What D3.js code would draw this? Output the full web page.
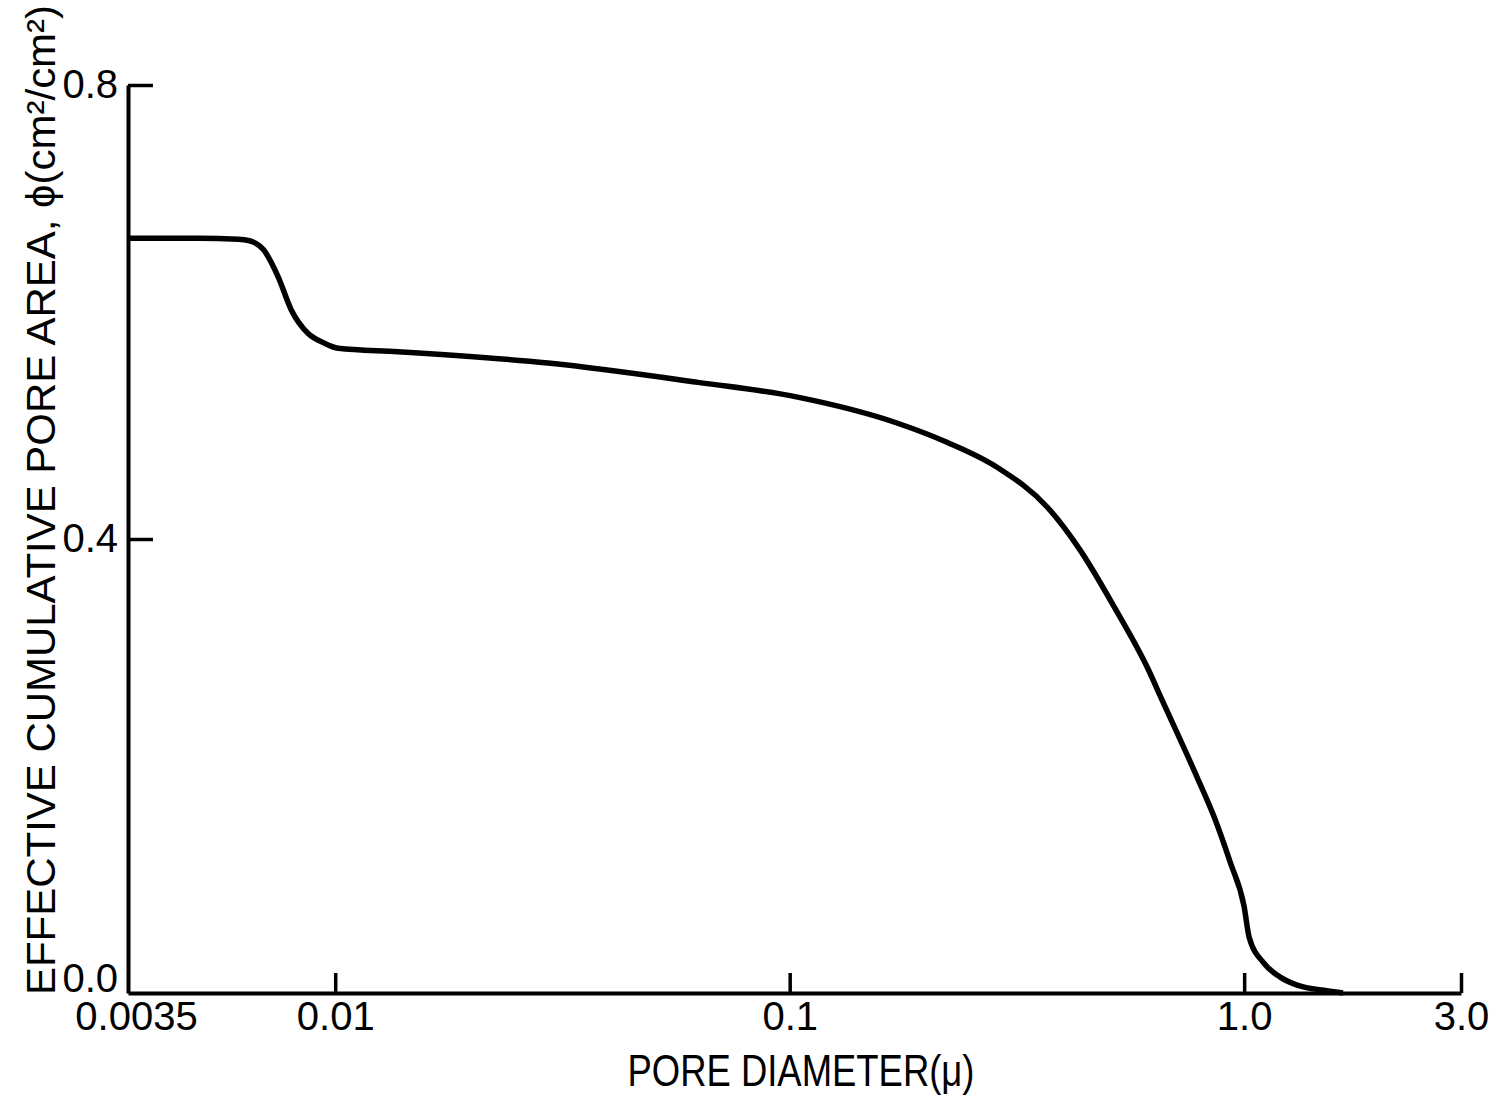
<!DOCTYPE html>
<html>
<head>
<meta charset="utf-8">
<script src="https://cdn.jsdelivr.net/npm/d3@7"></script>
<style>
  body { margin: 0; background: #fff; }
  text { font-family: "Liberation Sans", Arial, sans-serif; fill: #000; }
</style>
</head>
<body>
<div id="chart"></div>
<script>
// Data (pore diameter in microns, cumulative area)
var diameters = [0.0035, 0.0050, 0.00612, 0.00644, 0.00695, 0.00749, 0.0080, 0.00872,
  0.00941, 0.01015, 0.01375, 0.0294, 0.0628, 0.1041, 0.1728, 0.2225, 0.2865, 0.369,
  0.436, 0.518, 0.612, 0.660, 0.788, 0.859, 0.932, 1.0, 1.026, 1.107, 1.20, 1.308,
  1.522, 1.65];
var poreArea = [0.665, 0.665, 0.664, 0.663, 0.655, 0.631, 0.602, 0.581,
  0.573, 0.568, 0.565, 0.555, 0.538, 0.525, 0.502, 0.485, 0.463, 0.428,
  0.390, 0.340, 0.287, 0.258, 0.190, 0.155, 0.115, 0.076, 0.049, 0.026, 0.014, 0.007,
  0.002, 0.0];

// Tick values and labels
var xTicks = [0.0035, 0.01, 0.1, 1, 3];
var xTickLabels = ["0.0035", "0.01", "0.1", "1.0", "3.0"];
var yTicks = [0, 0.4, 0.8];
var yTickLabels = ["0.0", "0.4", "0.8"];

var svgWidth = 1492;
var svgHeight = 1098;

var svg = d3.select("#chart")
  .append("svg")
  .attr("width", svgWidth)
  .attr("height", svgHeight);

// Scales
var xScale = d3.scaleLog()
  .domain([0.0035, 3])
  .range([128, 1461]);

var yScale = d3.scaleLinear()
  .domain([0, 0.8])
  .range([993, 85]);

// Axes (ticks point inward like the original figure)
var bottomAxis = d3.axisBottom(xScale)
  .tickValues(xTicks)
  .tickSizeInner(-20)
  .tickSizeOuter(0)
  .tickPadding(9)
  .tickFormat((d, i) => xTickLabels[i]);

var leftAxis = d3.axisLeft(yScale)
  .tickValues(yTicks)
  .tickSizeInner(-25)
  .tickSizeOuter(0)
  .tickPadding(10)
  .tickFormat((d, i) => yTickLabels[i]);

var xAxisG = svg.append("g")
  .attr("transform", "translate(0, 993)")
  .call(bottomAxis);

var yAxisG = svg.append("g")
  .attr("transform", "translate(128, 0)")
  .call(leftAxis);

[xAxisG, yAxisG].forEach(function (g) {
  g.select(".domain").attr("stroke", "#000").attr("stroke-width", 4);
  g.selectAll(".tick line").attr("stroke", "#000").attr("stroke-width", 3.5);
  g.selectAll(".tick text")
    .attr("font-size", 40)
    .attr("font-family", "Liberation Sans, Arial, sans-serif")
    .attr("fill", "#000");
});

// hide the corner ticks like the original
xAxisG.selectAll(".tick line").filter(d => d === 0.0035).remove();
yAxisG.selectAll(".tick line").filter(d => d === 0).remove();
// lift the 0.0 label off the x axis
yAxisG.selectAll(".tick text").filter(d => d === 0).attr("dy", "-0.05em");
xAxisG.selectAll(".tick text").filter(d => d === 0.0035).attr("dx", "8");

// Curve
var line = d3.line()
  .x((d, i) => xScale(diameters[i]))
  .y((d, i) => yScale(poreArea[i]))
  .curve(d3.curveMonotoneX);

svg.append("path")
  .datum(poreArea)
  .attr("d", line)
  .attr("fill", "none")
  .attr("stroke", "#000")
  .attr("stroke-width", 5.5)
  .attr("stroke-linejoin", "round");

// Axis titles
svg.append("text")
  .attr("x", 801)
  .attr("y", 1086)
  .attr("text-anchor", "middle")
  .attr("font-size", 44)
  .attr("textLength", 347)
  .attr("lengthAdjust", "spacingAndGlyphs")
  .text("PORE DIAMETER(\u03bc)");

svg.append("text")
  .attr("transform", "translate(55, 500) rotate(-90)")
  .attr("text-anchor", "middle")
  .attr("font-size", 41)
  .attr("textLength", 990)
  .attr("lengthAdjust", "spacingAndGlyphs")
  .text("EFFECTIVE CUMULATIVE PORE AREA, \u03d5(cm\u00b2/cm\u00b2)");
</script>
</body>
</html>
